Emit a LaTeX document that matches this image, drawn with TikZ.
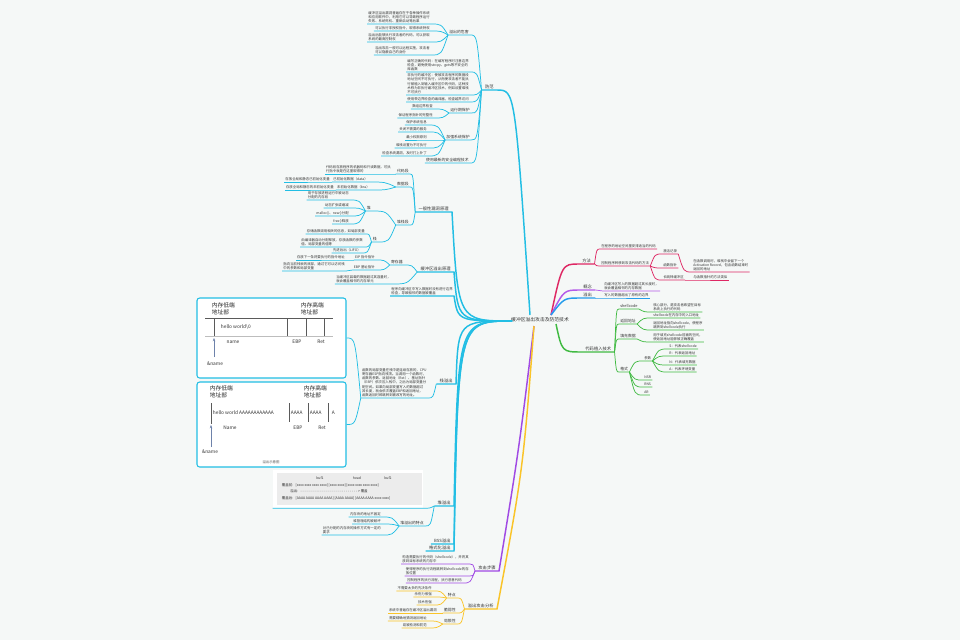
\documentclass[tikz,border=0pt]{standalone}
\usepackage{fontspec}
\newfontfamily\cjk{Noto Sans CJK SC}
\usepackage{tikz}
\usetikzlibrary{calc, positioning, arrows.meta}

\definecolor{bgC}{RGB}{245,248,247}
\definecolor{inkC}{RGB}{51,51,51}
\definecolor{cyanC}{RGB}{34,190,228}
\definecolor{pinkC}{RGB}{222,40,100}
\definecolor{violetC}{RGB}{180,90,232}
\definecolor{blueC}{RGB}{36,156,236}
\definecolor{greenC}{RGB}{64,186,66}
\definecolor{purpleC}{RGB}{160,74,228}
\definecolor{orangeC}{RGB}{250,196,40}
\definecolor{sketchC}{RGB}{90,90,90}
\definecolor{arrowC}{RGB}{110,130,170}
\definecolor{panelC}{RGB}{236,236,236}

\tikzset{
  leaf/.style={inner xsep=0.8pt, inner ysep=0.6pt, align=left, text=inkC, font=\cjk\fontsize{2.55}{3.2}\selectfont},
  mid/.style={leaf, font=\cjk\fontsize{2.9}{3.5}\selectfont},
  topic/.style={leaf, inner xsep=2.4pt, font=\cjk\fontsize{3.2}{3.8}\selectfont},
  rootnode/.style={inner sep=1pt, text=inkC, font=\cjk\fontsize{3.6}{4.3}\selectfont},
  imgbox/.style={draw=cyanC, line width=0.8pt, rounded corners=2pt, fill=white},
  heapbox/.style={fill=white, inner sep=0pt},
  memlbl/.style={inner sep=0.5pt, align=left, text=black!85, font=\cjk\fontsize{4.3}{4.8}\selectfont},
  memtxt/.style={inner sep=0.5pt, text=black!80, font=\cjk\fontsize{3.6}{4}\selectfont},
  tbl/.style={inner sep=0.3pt, text=black!80, font=\cjk\fontsize{2.6}{3}\selectfont},
  sk/.style={draw=sketchC, line width=0.45pt},
  skarrow/.style={draw=arrowC, line width=0.5pt, -{Stealth[length=2.4pt, width=1.9pt]}},
  cy/.style={draw=cyanC, line width=0.55pt},
  cyb/.style={draw=cyanC, line width=1.1pt},
  pk/.style={draw=pinkC, line width=0.55pt},
  pkb/.style={draw=pinkC, line width=1.1pt},
  vi/.style={draw=violetC, line width=0.55pt},
  vib/.style={draw=violetC, line width=1.1pt},
  bl/.style={draw=blueC, line width=0.55pt},
  blb/.style={draw=blueC, line width=1.1pt},
  gr/.style={draw=greenC, line width=0.55pt},
  grb/.style={draw=greenC, line width=1.1pt},
  pu/.style={draw=purpleC, line width=0.55pt},
  pub/.style={draw=purpleC, line width=1.1pt},
  og/.style={draw=orangeC, line width=0.55pt},
  ogb/.style={draw=orangeC, line width=1.1pt}
}

% links: parent -> child, with the child's underline
\newcommand{\lkl}[3]{\draw[#1] let \p1=(#2.south west), \p2=(#3.south east) in (\p1) .. controls ({0.6*\x1+0.4*\x2},\y2) .. (\p2) -- (#3.south west);}
\newcommand{\lkr}[3]{\draw[#1] let \p1=(#2.south east), \p2=(#3.south west) in (\p1) .. controls ({0.6*\x1+0.4*\x2},\y2) .. (\p2) -- (#3.south east);}
\newcommand{\lkbox}[3]{\draw[#1] let \p1=(#2.south west), \p2=(#3.east) in (\p1) .. controls ({0.6*\x1+0.4*\x2},\y2) .. (\p2);}

\begin{document}
\begin{tikzpicture}[x=0.75pt,y=0.75pt,yscale=-1,xscale=1]
\useasboundingbox (0,0) rectangle (960,640);
\fill[bgC] (0,0) rectangle (960,640);

% Root
\node[rootnode] (root) at (540,320) {缓冲区溢出攻击及防范技术};
\coordinate (rootL) at (530,315);
\coordinate (rootW) at (512,321);
\coordinate (rootB) at (534,326);
\coordinate (rootR) at (551,315);
\coordinate (rootRB) at (556,324);

%% ---------- 防范 (cyan, top) ----------
\node[topic, anchor=south east] (fangfan) at (497,90) {防范};
\node[mid, anchor=south east] (weihai) at (470,35) {溢出的危害};
\node[leaf, anchor=south east] (wh1) at (431,24) {缓冲区溢出漏洞普遍存在于各种操作系统\\和应用软件中，利用它可以导致程序运行\\失败、系统死机、重新启动等后果};
\node[leaf, anchor=south east] (wh2) at (431,31) {可以执行非授权指令，取得系统特权};
\node[leaf, anchor=south east] (wh3) at (431,42) {溢出后能够执行攻击者的代码，可以获取\\系统的最高控制权};
\node[leaf, anchor=south east] (wh4) at (431,55) {溢出攻击一般可以远程实施，攻击者\\可以隐蔽自己的身份};
\node[leaf, anchor=south east] (ff1) at (470,72) {编写正确的代码：在编写程序时注意边界\\检查，避免使用strcpy、gets等不安全的\\库函数};
\node[leaf, anchor=south east] (ff2) at (470,95) {非执行的缓冲区：使被攻击程序的数据段\\地址空间不可执行，从而使攻击者不能执\\行被植入到输入缓冲区中的代码，这种技\\术称为非执行缓冲区技术，例如设置堆栈\\不可执行};
\node[leaf, anchor=south east] (ff3) at (470,102) {使用带边界检查的编译器，检查越界访问};
\node[mid, anchor=south east] (yunxing) at (471,113) {运行期保护};
\node[leaf, anchor=south east] (yx1) at (434,109) {数组边界检查};
\node[leaf, anchor=south east] (yx2) at (434,118) {保证程序指针的完整性};
\node[mid, anchor=south east] (xitong) at (471,140) {加强系统保护};
\node[leaf, anchor=south east] (xt1) at (428,125) {保护系统信息};
\node[leaf, anchor=south east] (xt2) at (428,132) {关闭不需要的服务};
\node[leaf, anchor=south east] (xt3) at (428,140) {最小权限原则};
\node[leaf, anchor=south east] (xt4) at (428,148) {堆栈设置为不可执行};
\node[leaf, anchor=south east] (xt5) at (428,156) {检查系统漏洞，及时打上补丁};
\node[mid, anchor=south east] (ff4) at (470,163) {使用最新的安全编程技术};

\draw[cyb] (rootL) .. controls (515,90) .. (fangfan.south east) -- (fangfan.south west);
\foreach \c in {weihai,ff1,ff2,ff3,yunxing,xitong,ff4} {\lkl{cy}{fangfan}{\c}}
\foreach \c in {wh1,wh2,wh3,wh4} {\lkl{cy}{weihai}{\c}}
\foreach \c in {yx1,yx2} {\lkl{cy}{yunxing}{\c}}
\foreach \c in {xt1,xt2,xt3,xt4,xt5} {\lkl{cy}{xitong}{\c}}

%% ---------- 一般性漏洞原理 ----------
\node[topic, anchor=south east] (yiban) at (452,212) {一般性漏洞原理};
\node[mid, anchor=south east] (dmd) at (410,174) {代码段};
\node[leaf, anchor=south east] (dmd1) at (392,174) {代码段存放程序的机器码和只读数据，可执\\行指令就是在这里取得的};
\node[mid, anchor=south east] (sjd) at (410,187) {数据段};
\node[leaf, anchor=south east] (dat) at (369,182) {已初始化数据（data）};
\node[leaf, anchor=south east] (dat1) at (331,182) {存放全局和静态已初始化变量};
\node[leaf, anchor=south east] (bss) at (371,190) {未初始化数据（bss）};
\node[leaf, anchor=south east] (bss1) at (335,190) {存放全局和静态的未初始化变量};
\node[mid, anchor=south east] (dzd) at (410,225) {堆栈段};
\node[mid, anchor=south east] (dui) at (372,211) {堆};
\node[leaf, anchor=south east] (d1) at (350,200) {用于存放进程运行中被动态\\分配的内存段};
\node[leaf, anchor=south east] (d2) at (350,208) {动态扩张或缩减};
\node[leaf, anchor=south east] (d3) at (350,216) {malloc()、new()分配};
\node[leaf, anchor=south east] (d4) at (350,224) {free()释放};
\node[mid, anchor=south east] (zhan) at (378,242) {栈};
\node[leaf, anchor=south east] (z1) at (366,234) {存储函数调用相关的信息，如局部变量};
\node[leaf, anchor=south east] (z2) at (364,247) {由编译器自动分配释放，存放函数的参数\\值、局部变量的值等};
\node[leaf, anchor=south east] (z3) at (362,253) {先进后出（LIFO）};

\foreach \c in {dmd,sjd,dzd} {\lkl{cy}{yiban}{\c}}
\lkl{cy}{dmd}{dmd1}
\foreach \c in {dat,bss} {\lkl{cy}{sjd}{\c}}
\lkl{cy}{dat}{dat1}
\lkl{cy}{bss}{bss1}
\foreach \c in {dui,zhan} {\lkl{cy}{dzd}{\c}}
\foreach \c in {d1,d2,d3,d4} {\lkl{cy}{dui}{\c}}
\foreach \c in {z1,z2,z3} {\lkl{cy}{zhan}{\c}}

%% ---------- 缓冲区溢出原理 ----------
\node[topic, anchor=south east] (s0) at (454,272) {缓冲区溢出原理};
\node[mid, anchor=south east] (reg) at (404,265) {寄存器};
\node[leaf, anchor=south east] (eip) at (376,260) {EIP 指令指针};
\node[leaf, anchor=south east] (eip1) at (346,260) {存放下一条将要执行的指令地址};
\node[leaf, anchor=south east] (ebp) at (376,270) {EBP 基址指针};
\node[leaf, anchor=south east] (ebp1) at (346,271) {指向当前栈帧的底部，通过它可以访问栈\\中的参数和局部变量};
\node[leaf, anchor=south east] (s2) at (392,284) {当缓冲区装载的数据超过其容量时，\\就会覆盖相邻的内存单元};
\node[leaf, anchor=south east] (s3) at (454,296) {程序向缓冲区中写入数据时没有进行边界\\检查，导致相邻的数据被覆盖};

\foreach \c in {reg,s2} {\lkl{cy}{s0}{\c}}
\foreach \c in {eip,ebp} {\lkl{cy}{reg}{\c}}
\lkl{cy}{eip}{eip1}
\lkl{cy}{ebp}{ebp1}

%% ---------- 栈溢出 ----------
\node[topic, anchor=south east] (zhanyi) at (456,384) {栈溢出};
\node[leaf, anchor=south east] (c1) at (428,398) {函数的局部变量在栈中是连续存放的，CPU\\寄存器ESP指向栈顶。当调用一个函数时，\\函数的参数、返回地址（Ret）、基址指针\\（EBP）依次压入栈中，之后为局部变量分\\配空间。如果向局部变量写入的数据超过\\其长度，就会依次覆盖EBP和返回地址，\\函数返回时即跳转到被改写的地址。};
\lkl{cy}{zhanyi}{c1}

% stack picture, before
\node[imgbox, minimum width=111.75pt, minimum height=60pt] (stackA) at (271.5,338) {};
\node[memlbl, anchor=north west] (lowA) at (211,302) {内存低端\\地址部};
\node[memlbl, anchor=north west] (highA) at (300,302) {内存高端\\地址部};
\draw[sk] (205,318) -- (333,318);
\draw[sk, draw=sketchC!40] (205,336) -- (333,336);
\foreach \x in {214,287,306,324} \draw[sk] (\x,318) -- (\x,336);
\draw[skarrow] (214,357) -- (214,338);
\node[memtxt, anchor=west] (bufA) at (220,327) {hello world\textbackslash 0};
\node[memtxt] (nameA) at (233,342) {name};
\node[memtxt] (ebpA) at (297,342) {EBP};
\node[memtxt] (retA) at (321,342) {Ret};
\node[memtxt] (addrA) at (215,364) {\&name};

% stack picture, after
\node[imgbox, minimum width=111.75pt, minimum height=63.75pt] (stackB) at (271.5,424.5) {};
\node[memlbl, anchor=north west] (lowB) at (209,385) {内存低端\\地址部};
\node[memlbl, anchor=north west] (highB) at (303,385) {内存高端\\地址部};
\foreach \x in {289,308,328} \draw[sk] (\x,403) -- (\x,422);
\draw[sk] (211,403) -- (211,424);
\draw[skarrow] (211,447) -- (211,425);
\node[memtxt, anchor=west] (bufB) at (212,413) {hello world AAAAAAAAAAAA};
\node[memtxt, anchor=west] (ebpfB) at (290,413) {AAAA};
\node[memtxt, anchor=west] (retfB) at (309,413) {AAAA};
\node[memtxt, anchor=west] (tailB) at (331,413) {A};
\node[memtxt] (nameB) at (230,428) {Name};
\node[memtxt] (ebpB) at (298,428) {EBP};
\node[memtxt] (retB) at (322,428) {Ret};
\node[memtxt] (addrB) at (210,452) {\&name};
\node[leaf, text=sketchC] (capB) at (271,462) {溢出示意图};

\lkbox{cy}{c1}{stackA}
\lkbox{cy}{c1}{stackB}

%% ---------- 堆溢出 ----------
\node[topic, anchor=south east] (duiyi) at (454,506) {堆溢出};
\node[heapbox, minimum width=112.5pt, minimum height=28.5pt] (heapbox) at (348,489) {};
\fill[panelC] (277,473) rectangle (422,505);
\node[tbl] (colA) at (320,478) {buf1};
\node[tbl] (colB) at (357,478) {head};
\node[tbl] (colC) at (388,478) {buf2};
\node[tbl, anchor=east] (rowA) at (294,485) {覆盖前:};
\node[tbl, anchor=west] (datA) at (295,485) {[xxxx xxxx xxxx xxxx] [xxxx xxxx] [xxxx xxxx xxxx xxxx]};
\node[tbl, anchor=east] (rowB) at (299,491.5) {溢出:};
\node[tbl, anchor=west] (datB) at (300,491.5) {- - - - - - - - - - - - - - - - - - - - - - - - - - - - - > 覆盖};
\node[tbl, anchor=east] (rowC) at (294,498) {覆盖后:};
\node[tbl, anchor=west] (datC) at (295,498) {[AAAA AAAA AAAA AAAA] [AAAA AAAA] [AAAA AAAA xxxx xxxx]};
\node[mid, anchor=south east] (hpt) at (425,526) {堆溢出的特点};
\node[leaf, anchor=south east] (h1a) at (382,517) {内存块的地址不固定};
\node[leaf, anchor=south east] (h1b) at (382,524) {堆管理结构被破坏};
\node[leaf, anchor=south east] (h1c) at (382,535) {对已分配的内存块的操作方式有一定的\\要求};
\node[topic, anchor=south east] (bssyi) at (454,544) {BSS溢出};
\node[topic, anchor=south east] (geshi) at (454,551) {格式化溢出};

\foreach \c in {heapbox,hpt} {\lkl{cy}{duiyi}{\c}}
\foreach \c in {h1a,h1b,h1c} {\lkl{cy}{hpt}{\c}}

% cyan main curves
\foreach \t in {yiban,s0,s3,zhanyi,duiyi,bssyi,geshi}
  \draw[cyb] (rootW) .. controls (458,321) .. (\t.south east) -- (\t.south west);

%% ---------- 攻击步骤 (purple) ----------
\node[topic, anchor=south east] (gongji) at (499,571) {攻击步骤};
\node[leaf, anchor=south east] (g1) at (470,564) {构造需要执行的代码（shellcode），并将其\\放到目标系统的内存中};
\node[leaf, anchor=south east] (g2) at (470,576) {使得程序的执行流程跳转到shellcode的存\\放位置};
\node[leaf, anchor=south east] (g3) at (463,583) {控制程序的执行流程，执行恶意代码};
\draw[pub] (rootB) .. controls (519,449) .. (gongji.south east) -- (gongji.south west);
\foreach \c in {g1,g2,g3} {\lkl{pu}{gongji}{\c}}

%% ---------- 溢出攻击分析 (orange) ----------
\node[topic, anchor=south east] (fenxi) at (497,609) {溢出攻击分析};
\node[mid, anchor=south east] (tedian) at (457,598) {特点};
\node[leaf, anchor=south east] (tz1) at (433,591) {不需要太多的先决条件};
\node[leaf, anchor=south east] (tz2) at (433,597) {杀伤力很强};
\node[leaf, anchor=south east] (tz3) at (433,605) {技术性强};
\node[mid, anchor=south east] (cuiruo) at (457,613) {脆弱性};
\node[leaf, anchor=south east] (cr1) at (438,613) {系统中普遍存在缓冲区溢出漏洞};
\node[mid, anchor=south east] (juxian) at (457,624) {局限性};
\node[leaf, anchor=south east] (jx1) at (428,621) {需要精确地猜测返回地址};
\node[leaf, anchor=south east] (jx2) at (428,628) {易被检测和防范};
\draw[ogb] (rootB) .. controls (523,470) .. (fenxi.south east) -- (fenxi.south west);
\foreach \c in {tedian,cuiruo,juxian} {\lkl{og}{fenxi}{\c}}
\foreach \c in {tz1,tz2,tz3} {\lkl{og}{tedian}{\c}}
\lkl{og}{cuiruo}{cr1}
\foreach \c in {jx1,jx2} {\lkl{og}{juxian}{\c}}

%% ---------- 方法 (pink) ----------
\node[topic, anchor=south west] (fangfa) at (579,264) {方法};
\node[leaf, anchor=south west] (f1) at (600,249) {在程序的地址空间里安排适当的代码};
\node[leaf, anchor=south west] (f2) at (600,266) {控制程序转移到攻击代码的方法};
\node[leaf, anchor=south west] (jh) at (662,254) {激活记录};
\node[leaf, anchor=south west] (jh1) at (692,272) {在函数调用时，堆栈中会留下一个\\Activation Record，包含函数结束时\\返回的地址};
\node[leaf, anchor=south west] (hz) at (662,268) {函数指针};
\node[leaf, anchor=south west] (ct) at (662,280) {长跳转缓冲区};
\node[leaf, anchor=south west] (ct1) at (692,280) {与函数指针的方法类似};
\draw[pkb] (rootR) .. controls (562,264) .. (fangfa.south west) -- (fangfa.south east);
\foreach \c in {f1,f2} {\lkr{pk}{fangfa}{\c}}
\foreach \c in {jh,hz,ct} {\lkr{pk}{f2}{\c}}
\lkr{pk}{jh}{jh1}
\lkr{pk}{ct}{ct1}

%% ---------- 概念 / 溢出 ----------
\node[topic, anchor=south west] (gainian) at (580,290) {概念};
\node[leaf, anchor=south west] (gn1) at (603,291) {向缓冲区写入的数据超过其长度时，\\就会覆盖相邻的内存数据};
\node[topic, anchor=south west] (yichu) at (580,298) {溢出};
\node[leaf, anchor=south west] (yc1) at (603,298) {写入的数据超出了原有的边界};
\draw[vib] (rootR) .. controls (564,290) .. (gainian.south west) -- (gainian.south east);
\lkr{vi}{gainian}{gn1}
\draw[blb] (rootR) .. controls (564,298) .. (yichu.south west) -- (yichu.south east);
\lkr{bl}{yichu}{yc1}

%% ---------- 代码植入技术 (green) ----------
\node[topic, anchor=south west] (zhiru) at (582,352) {代码植入技术};
\node[mid, anchor=south west] (shc) at (619,309) {shellcode};
\node[leaf, anchor=south west] (shc1) at (652,312) {核心部分，是攻击者希望在目标\\系统上执行的代码};
\node[mid, anchor=south west] (fhd) at (619,324) {返回地址};
\node[leaf, anchor=south west] (fh1) at (652,318) {shellcode在内存中的入口地址};
\node[leaf, anchor=south west] (fh2) at (652,330) {返回地址指向shellcode，使程序\\跳转到shellcode执行};
\node[mid, anchor=south west] (tcs) at (619,339) {填充数据};
\node[leaf, anchor=south west] (tc1) at (652,342) {用于填充shellcode前面的空间，\\使返回地址能够被正确覆盖};
\node[mid, anchor=south west] (gs) at (619,372) {格式};
\node[leaf, anchor=south west] (cs) at (643,361) {参数};
\node[leaf, anchor=south west] (pS) at (668,349) {S：代表shellcode};
\node[leaf, anchor=south west] (pR) at (668,356) {R：代表返回地址};
\node[leaf, anchor=south west] (pN) at (668,365) {N：代表填充数据};
\node[leaf, anchor=south west] (pA) at (668,372) {A：代表环境变量};
\node[leaf, anchor=south west] (nsr) at (643,380) {NSR};
\node[leaf, anchor=south west] (rns) at (643,387) {RNS};
\node[leaf, anchor=south west] (ar) at (643,395) {AR};
\draw[grb] (rootRB) .. controls (562,352) .. (zhiru.south west) -- (zhiru.south east);
\foreach \c in {shc,fhd,tcs,gs} {\lkr{gr}{zhiru}{\c}}
\lkr{gr}{shc}{shc1}
\foreach \c in {fh1,fh2} {\lkr{gr}{fhd}{\c}}
\lkr{gr}{tcs}{tc1}
\foreach \c in {cs,nsr,rns,ar} {\lkr{gr}{gs}{\c}}
\foreach \c in {pS,pR,pN,pA} {\lkr{gr}{cs}{\c}}

\end{tikzpicture}
\end{document}
